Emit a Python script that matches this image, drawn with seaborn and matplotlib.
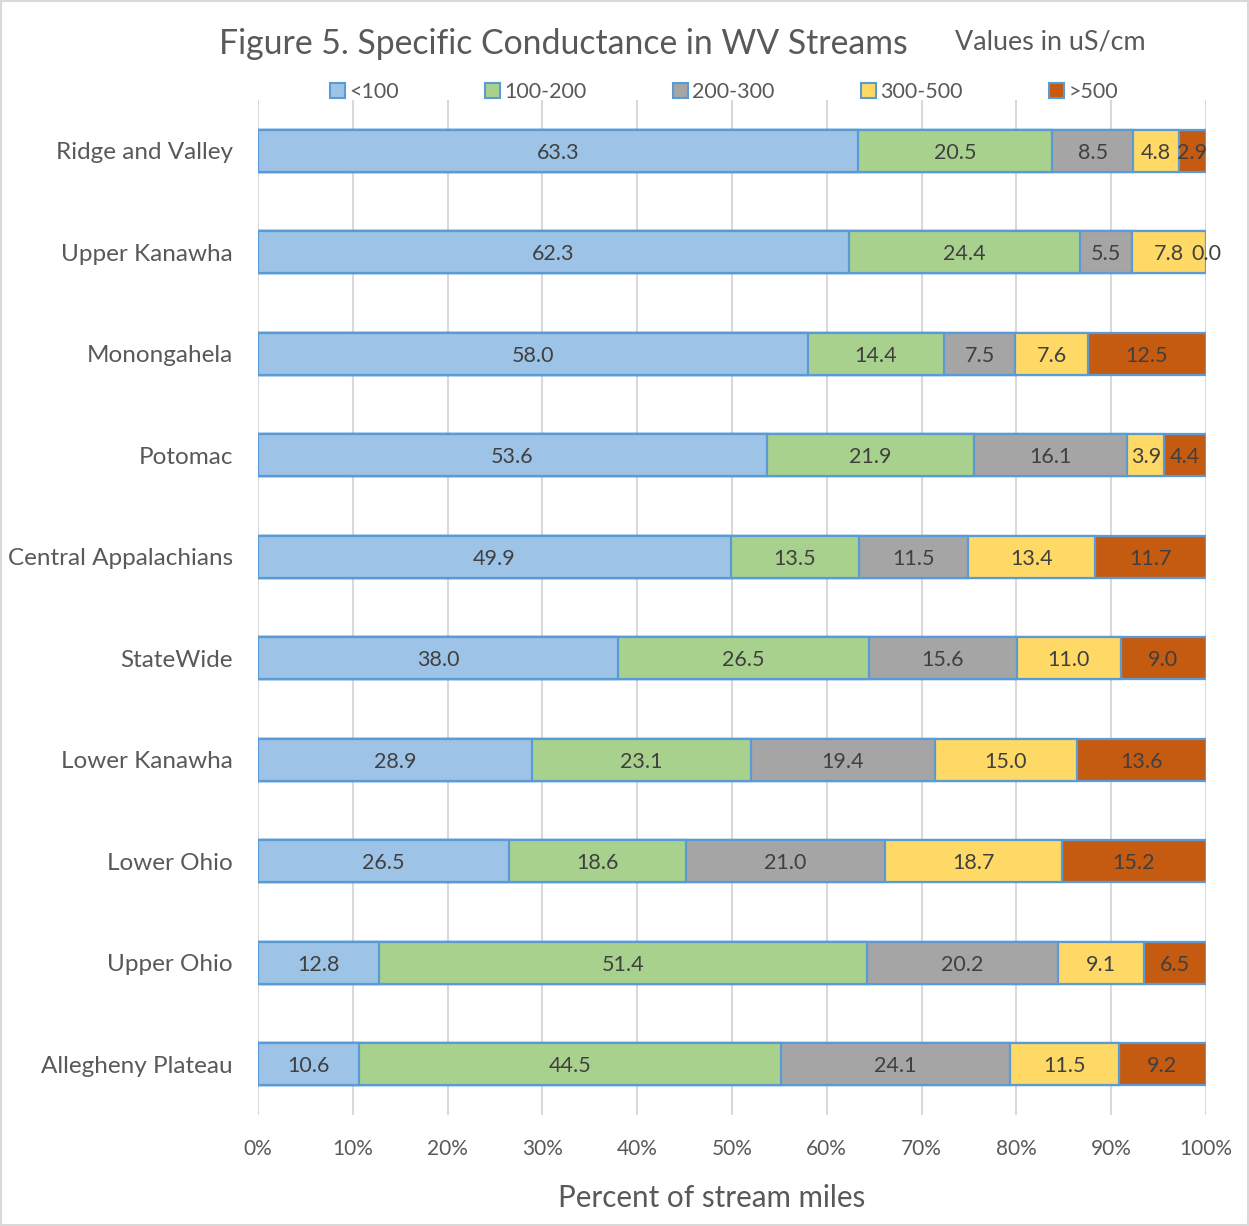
import numpy as np
import pandas as pd
import matplotlib
matplotlib.use("Agg")
import matplotlib.pyplot as plt
import seaborn as sns
from matplotlib.patches import Rectangle, Patch
from matplotlib.ticker import PercentFormatter

# Percent of stream miles in each conductance class, per region
regions = ["Ridge and Valley", "Upper Kanawha", "Monongahela", "Potomac",
           "Central Appalachians", "StateWide", "Lower Kanawha", "Lower Ohio",
           "Upper Ohio", "Allegheny Plateau"]
classes = ["<100", "100-200", "200-300", "300-500", ">500"]
lt100 = [63.3, 62.3, 58.0, 53.6, 49.9, 38.0, 28.9, 26.5, 12.8, 10.6]
c100_200 = [20.5, 24.4, 14.4, 21.9, 13.5, 26.5, 23.1, 18.6, 51.4, 44.5]
c200_300 = [8.5, 5.5, 7.5, 16.1, 11.5, 15.6, 19.4, 21.0, 20.2, 24.1]
c300_500 = [4.8, 7.8, 7.6, 3.9, 13.4, 11.0, 15.0, 18.7, 9.1, 11.5]
gt500 = [2.9, 0.0, 12.5, 4.4, 11.7, 9.0, 13.6, 15.2, 6.5, 9.2]

colors = ["#9DC3E6", "#A9D18E", "#A5A5A5", "#FFD966", "#C55A11"]
edge = "#5B9BD5"

sns.set_theme(style="white")
plt.rcParams["font.family"] = ["Lato", "DejaVu Sans"]

values = np.array([lt100, c100_200, c200_300, c300_500, gt500]).T
# 100% stacked: normalise each row to its total
pct = values / values.sum(axis=1, keepdims=True) * 100
cum = np.cumsum(pct, axis=1)

df = pd.DataFrame(cum, columns=classes)
df["region"] = regions

fig = plt.figure(figsize=(12.49, 12.26), dpi=100)
ax = fig.add_axes([258 / 1249, 1 - 1115 / 1226, (1206 - 258) / 1249, (1115 - 100) / 1226])

# Draw cumulative totals from the outermost class inwards so each segment shows
for i in range(len(classes) - 1, -1, -1):
    sns.barplot(data=df, x=classes[i], y="region", order=regions, orient="h",
                color=colors[i], saturation=1, width=0.41, edgecolor=edge,
                linewidth=1.6, ax=ax, zorder=2)

# Value labels at the middle of each segment
for r in range(len(regions)):
    left = 0.0
    for c in range(len(classes)):
        w = pct[r, c]
        ax.text(left + w / 2, r, f"{values[r, c]:.1f}", ha="center", va="center_baseline",
                fontsize=15.5, color="#404040", zorder=5)
        left += w

ax.set_xlim(0, 100)
ax.set_ylim(len(regions) - 0.5, -0.5)
ax.set_xticks(np.arange(0, 101, 10))
ax.xaxis.set_major_formatter(PercentFormatter(decimals=0))
ax.grid(axis="x", color="#D9D9D9", linewidth=1.5, zorder=0)
ax.grid(axis="y", visible=False)
for s in ax.spines.values():
    s.set_visible(False)
ax.tick_params(axis="x", labelsize=15, labelcolor="#595959", pad=17, length=0)
ax.tick_params(axis="y", labelsize=17.5, labelcolor="#595959", pad=18, length=0)
ax.set_ylabel("")
ax.set_xlabel("Percent of stream miles", fontsize=21.3, color="#595959")
ax.xaxis.set_label_coords(0.479, -0.068)

fig.text(563 / 1249, 1 - 44 / 1226, "Figure 5. Specific Conductance in WV Streams",
         ha="center", va="center", fontsize=24.3, color="#595959")
fig.text(1050 / 1249, 1 - 42 / 1226, "Values in uS/cm",
         ha="center", va="center", fontsize=19.4, color="#595959")

handles = [Patch(facecolor=colors[i], edgecolor=edge, linewidth=1.5) for i in range(len(classes))]
fig.legend(handles, classes, loc="center", bbox_to_anchor=(724 / 1249, 1 - 92 / 1226),
           ncol=5, frameon=False, fontsize=15.5, handlelength=0.7, handleheight=0.7,
           handletextpad=0.2, columnspacing=4.0, labelcolor="#595959")

fig.patches.append(Rectangle((0.001, 0.001), 0.998, 0.998, transform=fig.transFigure,
                             fill=False, edgecolor="#D9D9D9", linewidth=1.5))

fig.savefig("out.png", dpi=100)
